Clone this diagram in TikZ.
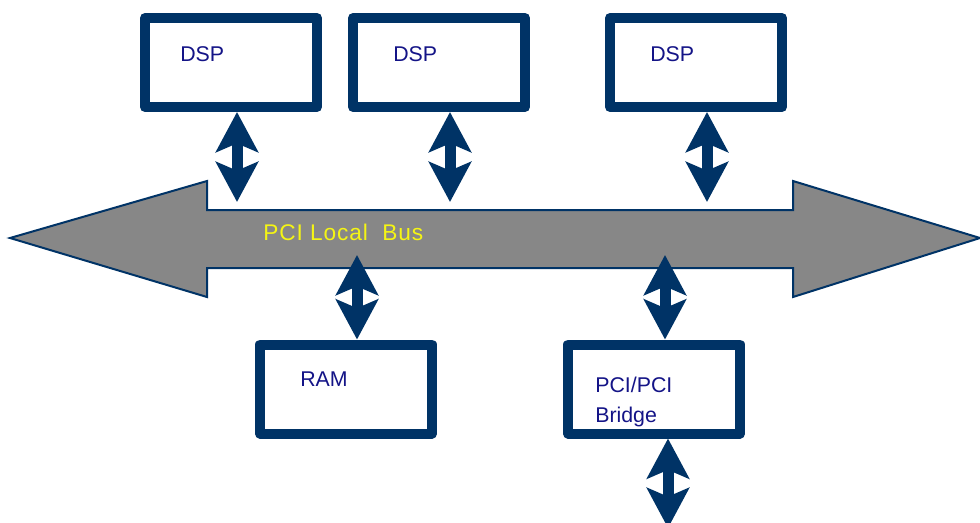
\documentclass[tikz,border=0pt]{standalone}
\usepackage{fontspec}
\setmainfont{Liberation Sans}
\newfontfamily\busfont[LetterSpace=4]{Liberation Sans}
\definecolor{pcinavy}{RGB}{0,51,102}
\definecolor{pcitext}{RGB}{20,20,135}
\definecolor{pcigray}{RGB}{135,135,135}
\definecolor{pciyellow}{RGB}{245,245,20}
\usetikzlibrary{arrows.meta,positioning}

\begin{document}
\begin{tikzpicture}[
  x=0.75pt,y=-0.75pt,
  unitbox/.style={draw=pcinavy,line width=7.5pt,line join=round,fill=white,
    minimum width=129pt,minimum height=66.75pt,inner sep=0pt,outer sep=3.75pt},
  unitlabel/.style={font=\fontsize{16}{22.5}\selectfont,text=pcitext,inner sep=0pt,align=left},
  busline/.style={draw=pcinavy,line width=1.5pt,fill=pcigray,line join=miter},
  link/.style={pcinavy,line width=8.25pt,
    arrows={Stealth[length=30pt,width=31.5pt,inset=6.5pt]-Stealth[length=30pt,width=31.5pt,inset=6.5pt]}}
]
  \useasboundingbox (0,0) rectangle (980,522);
  % Bus
  \draw[busline] (10,238) -- (207,181) -- (207,210) -- (793,210) -- (793,181)
    -- (980,238) -- (793,297) -- (793,268) -- (207,268) -- (207,297) -- cycle;
  \node[font=\busfont\fontsize{17}{20}\selectfont,text=pciyellow,inner sep=0pt,anchor=west]
    (buslabel) at (263,232) {PCI Local\ \ Bus};
  % Boxes
  \node[unitbox] (dsp1) at (231,62.5) {};
  \node[unitbox] (dsp2) at (439,62.5) {};
  \node[unitbox] (dsp3) at (696,62.5) {};
  \node[unitbox] (ram) at (346,389) {};
  \node[unitbox] (bridge) at (654,389) {};
  % Labels
  \node[unitlabel,anchor=west] (dsp1txt) at (180,54) {DSP};
  \node[unitlabel,anchor=west] (dsp2txt) at (393,54) {DSP};
  \node[unitlabel,anchor=west] (dsp3txt) at (650,54) {DSP};
  \node[unitlabel,anchor=west] (ramtxt) at (300,379) {RAM};
  \node[unitlabel,anchor=base west] (bridgetxt) at (595,422) {PCI/PCI\\Bridge};
  % Bus ends of the links
  \coordinate (b1) at (237,202);
  \coordinate (b2) at (450,202);
  \coordinate (b3) at (707,202);
  \coordinate (b4) at (357,255);
  \coordinate (b5) at (665,255);
  \coordinate (out) at (668,528);
  % Links
  \draw[link] (dsp1.south -| b1) -- (b1);
  \draw[link] (dsp2.south -| b2) -- (b2);
  \draw[link] (dsp3.south -| b3) -- (b3);
  \draw[link] (b4) -- (ram.north -| b4);
  \draw[link] (b5) -- (bridge.north -| b5);
  \draw[link] (bridge.south -| out) -- (out);
\end{tikzpicture}
\end{document}
